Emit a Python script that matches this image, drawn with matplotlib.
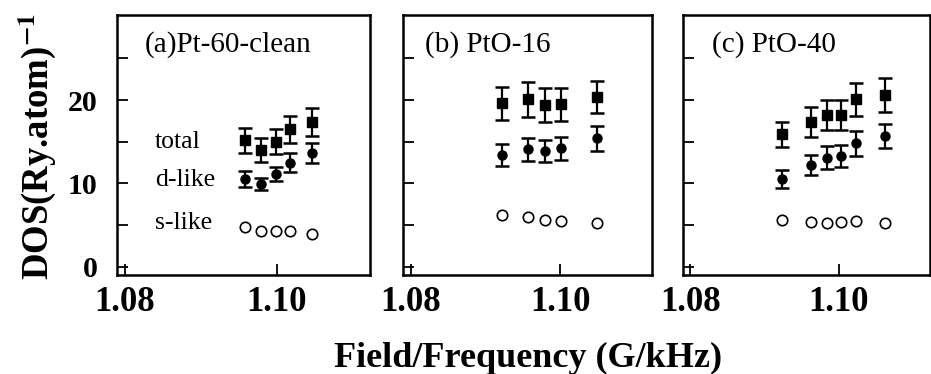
import matplotlib
matplotlib.use("Agg")
import matplotlib.pyplot as plt

plt.rcParams["font.family"] = ["Liberation Serif", "DejaVu Serif"]
plt.rcParams["mathtext.fontset"] = "stix"

# ── 数据───────────────────────────────────────────────
panel_titles = ["(a)Pt-60-clean", "(b) PtO-16", "(c) PtO-40"]

a_x = [1.0958, 1.0980, 1.0999, 1.1018, 1.1047]
a_total = [15.2, 14.0, 15.0, 16.5, 17.4]
a_total_err = [1.5, 1.4, 1.5, 1.6, 1.7]
a_d = [10.5, 9.9, 11.1, 12.5, 13.6]
a_d_err = [0.95, 0.7, 0.85, 1.1, 1.2]
a_s = [4.8, 4.3, 4.3, 4.3, 3.9]

b_x = [1.0922, 1.0957, 1.0980, 1.1001, 1.1050]
b_total = [19.6, 20.1, 19.4, 19.5, 20.4]
b_total_err = [2.0, 2.1, 2.0, 2.0, 1.9]
b_d = [13.4, 14.1, 13.9, 14.2, 15.4]
b_d_err = [1.35, 1.4, 1.35, 1.35, 1.5]
b_s = [6.2, 6.0, 5.6, 5.5, 5.2]

c_x = [1.0924, 1.0962, 1.0984, 1.1003, 1.1023, 1.1062]
c_total = [15.9, 17.4, 18.2, 18.2, 20.1, 20.6]
c_total_err = [1.5, 1.8, 1.8, 1.8, 2.0, 2.0]
c_d = [10.5, 12.2, 13.1, 13.3, 14.8, 15.7]
c_d_err = [1.1, 1.2, 1.35, 1.35, 1.5, 1.45]
c_s = [5.6, 5.4, 5.3, 5.4, 5.5, 5.2]

series_labels = ["total", "d-like", "s-like"]
series_label_y = [15.0, 10.4, 5.3]
x_ticks = [1.08, 1.10]
x_ticklabels = ["1.08", "1.10"]
y_ticks = [0, 5, 10, 15, 20, 25]
y_ticklabels = ["0", "", "10", "", "20", ""]

panels = [
    (a_x, a_total, a_total_err, a_d, a_d_err, a_s),
    (b_x, b_total, b_total_err, b_d, b_d_err, b_s),
    (c_x, c_total, c_total_err, c_d, c_d_err, c_s),
]

fig = plt.figure(figsize=(9.31, 3.74), dpi=100)
lefts = [0.1257, 0.4329, 0.7336]
widths = [0.2718, 0.2675, 0.2653]
title_x = [0.11, 0.088, 0.117]

for i, (x, tot, tot_e, d, d_e, s) in enumerate(panels):
    ax = fig.add_axes([lefts[i], 0.2647, widths[i], 0.695])
    ax.errorbar(x, tot, yerr=tot_e, fmt="s", color="black", ms=7,
                capsize=5, elinewidth=1.6, capthick=1.8)
    ax.errorbar(x, d, yerr=d_e, fmt="o", color="black", ms=6.5,
                capsize=5, elinewidth=1.6, capthick=1.8)
    ax.plot(x, s, "o", mfc="white", mec="black", ms=7.5, mew=1.2, ls="none")

    ax.set_xlim(1.079, 1.1123)
    ax.set_ylim(-1, 30.2)
    ax.set_xticks(x_ticks)
    ax.set_yticks(y_ticks)
    ax.tick_params(direction="in", length=8, width=1.3)
    ax.tick_params(axis="x", pad=8)
    ax.tick_params(axis="y", pad=14)
    ax.set_xticklabels(x_ticklabels, fontsize=25, fontweight="bold")
    if i == 0:
        ax.set_yticklabels(y_ticklabels, fontsize=21.5, fontweight="bold")
    else:
        ax.set_yticklabels([])
    for sp in ax.spines.values():
        sp.set_linewidth(1.8)

    ax.text(title_x[i], 0.885, panel_titles[i], transform=ax.transAxes,
            fontsize=21, va="center", ha="left")

    if i == 0:
        for lab, yv in zip(series_labels, series_label_y):
            ax.text(1.0840, yv, lab, fontsize=18.5, va="center", ha="left")

fig.text(0.040, 0.609, "DOS(Ry.atom)$^{\\mathbf{-1}}$", rotation=90,
         fontsize=26.5, fontweight="bold", ha="center", va="center")
fig.text(0.567, 0.02, "Field/Frequency (G/kHz)", fontsize=26,
         fontweight="bold", ha="center", va="baseline")

fig.savefig("out.png", dpi=100)
